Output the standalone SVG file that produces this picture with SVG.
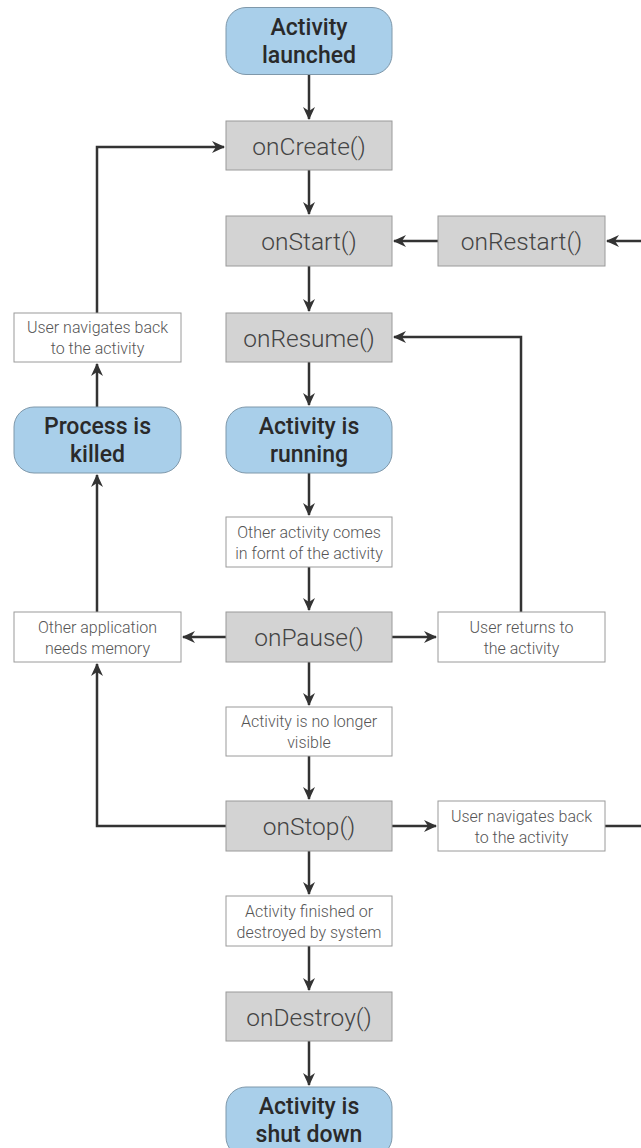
<svg xmlns="http://www.w3.org/2000/svg" width="641" height="1148" viewBox="0 0 641 1148">
<style>
.blue{fill:#a9cfea;stroke:#7f98aa;stroke-width:1}
.gray{fill:#d3d3d3;stroke:#9a9a9a;stroke-width:1}
.white{fill:#ffffff;stroke:#9a9a9a;stroke-width:1}
.bt{font-family:"Roboto Medium",Roboto,"Liberation Sans",sans-serif;font-weight:500;font-size:23px;fill:#2a2a2a;text-anchor:middle}
.gt{font-family:"Roboto Light",Roboto,"Liberation Sans",sans-serif;font-weight:300;font-size:24.5px;fill:#444;text-anchor:middle}
.wt{font-family:"Roboto Light",Roboto,"Liberation Sans",sans-serif;font-weight:300;font-size:16px;fill:#555;text-anchor:middle}
.c{fill:none;stroke:#333;stroke-width:2.5}
</style>
<defs>
<marker id="ah" markerWidth="14" markerHeight="14" refX="12" refY="7" orient="auto" markerUnits="userSpaceOnUse">
<path d="M0,1 L13,7 L0,13 L4,7 Z" fill="#333"/>
</marker>
</defs>
<g id="connectors">
<path class="c" d="M309,75 V119" marker-end="url(#ah)"/>
<path class="c" d="M97,313 V147 H224" marker-end="url(#ah)"/>
<path class="c" d="M309,170 V214" marker-end="url(#ah)"/>
<path class="c" d="M438,241 H394" marker-end="url(#ah)"/>
<path class="c" d="M641,241 H607" marker-end="url(#ah)"/>
<path class="c" d="M309,266 V311" marker-end="url(#ah)"/>
<path class="c" d="M521,612 V337 H394" marker-end="url(#ah)"/>
<path class="c" d="M309,362 V405" marker-end="url(#ah)"/>
<path class="c" d="M309,473 V515" marker-end="url(#ah)"/>
<path class="c" d="M309,567 V610" marker-end="url(#ah)"/>
<path class="c" d="M226,637 H183" marker-end="url(#ah)"/>
<path class="c" d="M392,637 H436" marker-end="url(#ah)"/>
<path class="c" d="M309,662 V705" marker-end="url(#ah)"/>
<path class="c" d="M309,756 V799" marker-end="url(#ah)"/>
<path class="c" d="M226,826 H97 V664" marker-end="url(#ah)"/>
<path class="c" d="M392,826 H436" marker-end="url(#ah)"/>
<path class="c" d="M605,826 H641"/>
<path class="c" d="M97,612 V475" marker-end="url(#ah)"/>
<path class="c" d="M97,407 V364" marker-end="url(#ah)"/>
<path class="c" d="M309,851 V894" marker-end="url(#ah)"/>
<path class="c" d="M309,946 V990" marker-end="url(#ah)"/>
<path class="c" d="M309,1041 V1085" marker-end="url(#ah)"/>
</g>
<g id="activity-launched"><rect class="blue" x="226" y="7.5" width="166" height="67" rx="20"/><text class="bt" x="309" y="35">Activity</text><text class="bt" x="309" y="63">launched</text></g>
<g id="onCreate"><rect class="gray" x="226" y="121" width="166" height="49"/><text class="gt" x="309" y="154.5">onCreate()</text></g>
<g id="onStart"><rect class="gray" x="226" y="216" width="166" height="50"/><text class="gt" x="309" y="250">onStart()</text></g>
<g id="onRestart"><rect class="gray" x="438" y="216" width="167" height="50"/><text class="gt" x="521.5" y="250">onRestart()</text></g>
<g id="onResume"><rect class="gray" x="226" y="313" width="166" height="49"/><text class="gt" x="309" y="346.5">onResume()</text></g>
<g id="user-navigates-back-left"><rect class="white" x="14" y="313" width="167" height="49"/><text class="wt" x="97.5" y="333">User navigates back</text><text class="wt" x="97.5" y="354">to the activity</text></g>
<g id="process-killed"><rect class="blue" x="14" y="407" width="167" height="66" rx="20"/><text class="bt" x="97.5" y="433.5">Process is</text><text class="bt" x="97.5" y="461.5">killed</text></g>
<g id="activity-running"><rect class="blue" x="226" y="407" width="166" height="66" rx="20"/><text class="bt" x="309" y="433.5">Activity is</text><text class="bt" x="309" y="461.5">running</text></g>
<g id="other-activity"><rect class="white" x="226" y="517" width="166" height="50"/><text class="wt" x="309" y="537.5">Other activity comes</text><text class="wt" x="309" y="558.5">in fornt of the activity</text></g>
<g id="onPause"><rect class="gray" x="226" y="612" width="166" height="50"/><text class="gt" x="309" y="646">onPause()</text></g>
<g id="other-application"><rect class="white" x="14" y="612" width="167" height="50"/><text class="wt" x="97.5" y="632.5">Other application</text><text class="wt" x="97.5" y="653.5">needs memory</text></g>
<g id="user-returns"><rect class="white" x="438" y="612" width="167" height="50"/><text class="wt" x="521.5" y="632.5">User returns to</text><text class="wt" x="521.5" y="653.5">the activity</text></g>
<g id="no-longer-visible"><rect class="white" x="226" y="707" width="166" height="49"/><text class="wt" x="309" y="727">Activity is no longer</text><text class="wt" x="309" y="748">visible</text></g>
<g id="onStop"><rect class="gray" x="226" y="801" width="166" height="50"/><text class="gt" x="309" y="835">onStop()</text></g>
<g id="user-navigates-back-right"><rect class="white" x="438" y="801" width="167" height="50"/><text class="wt" x="521.5" y="821.5">User navigates back</text><text class="wt" x="521.5" y="842.5">to the activity</text></g>
<g id="activity-finished"><rect class="white" x="226" y="896" width="166" height="50"/><text class="wt" x="309" y="916.5">Activity finished or</text><text class="wt" x="309" y="937.5">destroyed by system</text></g>
<g id="onDestroy"><rect class="gray" x="226" y="992" width="166" height="49"/><text class="gt" x="309" y="1025.5">onDestroy()</text></g>
<g id="activity-shut-down"><rect class="blue" x="226" y="1087" width="166" height="70" rx="20"/><text class="bt" x="309" y="1114">Activity is</text><text class="bt" x="309" y="1142">shut down</text></g>
</svg>
